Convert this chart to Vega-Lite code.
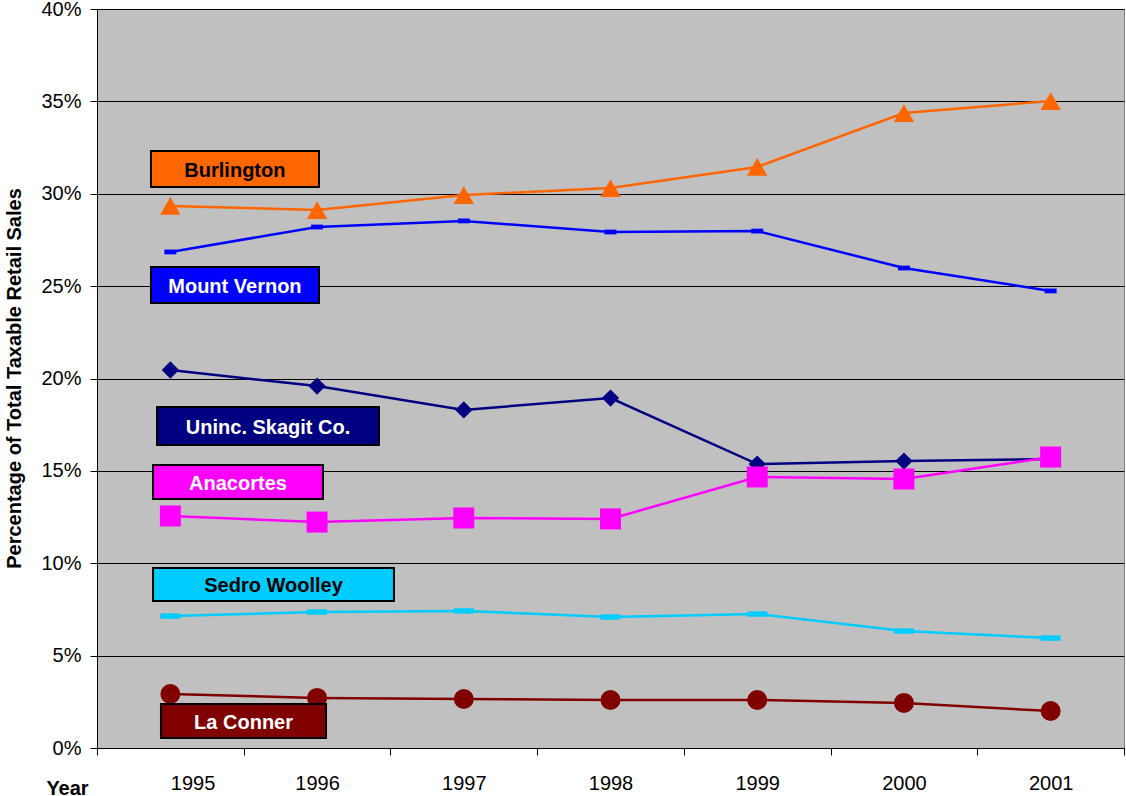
{
  "$schema": "https://vega.github.io/schema/vega-lite/v6.json",
  "width": 1027,
  "height": 739,
  "autosize": {"type": "none"},
  "padding": {"left": 97, "top": 9, "right": 2, "bottom": 48},
  "background": "white",
  "config": {
    "view": {"fill": "#C0C0C0", "stroke": "#808080", "strokeWidth": 1},
    "font": "Liberation Sans"
  },
  "datasets": {
    "sales": [
      {"year": 1995, "series": "Burlington", "share": 0.2934},
      {"year": 1996, "series": "Burlington", "share": 0.2912},
      {"year": 1997, "series": "Burlington", "share": 0.2993},
      {"year": 1998, "series": "Burlington", "share": 0.3031},
      {"year": 1999, "series": "Burlington", "share": 0.3145},
      {"year": 2000, "series": "Burlington", "share": 0.3437},
      {"year": 2001, "series": "Burlington", "share": 0.3502},
      {"year": 1995, "series": "Mount Vernon", "share": 0.2685},
      {"year": 1996, "series": "Mount Vernon", "share": 0.282},
      {"year": 1997, "series": "Mount Vernon", "share": 0.2853},
      {"year": 1998, "series": "Mount Vernon", "share": 0.2793},
      {"year": 1999, "series": "Mount Vernon", "share": 0.2798},
      {"year": 2000, "series": "Mount Vernon", "share": 0.2598},
      {"year": 2001, "series": "Mount Vernon", "share": 0.2474},
      {"year": 1995, "series": "Uninc. Skagit Co.", "share": 0.2046},
      {"year": 1996, "series": "Uninc. Skagit Co.", "share": 0.1959},
      {"year": 1997, "series": "Uninc. Skagit Co.", "share": 0.183},
      {"year": 1998, "series": "Uninc. Skagit Co.", "share": 0.1894},
      {"year": 1999, "series": "Uninc. Skagit Co.", "share": 0.1537},
      {"year": 2000, "series": "Uninc. Skagit Co.", "share": 0.1553},
      {"year": 2001, "series": "Uninc. Skagit Co.", "share": 0.1564},
      {"year": 1995, "series": "Anacortes", "share": 0.1256},
      {"year": 1996, "series": "Anacortes", "share": 0.1223},
      {"year": 1997, "series": "Anacortes", "share": 0.1245},
      {"year": 1998, "series": "Anacortes", "share": 0.124},
      {"year": 1999, "series": "Anacortes", "share": 0.1467},
      {"year": 2000, "series": "Anacortes", "share": 0.1456},
      {"year": 2001, "series": "Anacortes", "share": 0.1575},
      {"year": 1995, "series": "Sedro Woolley", "share": 0.0714},
      {"year": 1996, "series": "Sedro Woolley", "share": 0.0736},
      {"year": 1997, "series": "Sedro Woolley", "share": 0.0742},
      {"year": 1998, "series": "Sedro Woolley", "share": 0.0709},
      {"year": 1999, "series": "Sedro Woolley", "share": 0.0725},
      {"year": 2000, "series": "Sedro Woolley", "share": 0.0633},
      {"year": 2001, "series": "Sedro Woolley", "share": 0.0595},
      {"year": 1995, "series": "La Conner", "share": 0.0292},
      {"year": 1996, "series": "La Conner", "share": 0.0271},
      {"year": 1997, "series": "La Conner", "share": 0.0265},
      {"year": 1998, "series": "La Conner", "share": 0.026},
      {"year": 1999, "series": "La Conner", "share": 0.026},
      {"year": 2000, "series": "La Conner", "share": 0.0244},
      {"year": 2001, "series": "La Conner", "share": 0.02}
    ],
    "labels": [
      {"series": "Burlington", "x1": 1994.868, "x2": 1996.013, "y1": 0.3231, "y2": 0.3037, "tx": 1995.44, "ty": 0.3124},
      {"series": "Mount Vernon", "x1": 1994.868, "x2": 1996.013, "y1": 0.2604, "y2": 0.2409, "tx": 1995.44, "ty": 0.2496},
      {"series": "Uninc. Skagit Co.", "x1": 1994.909, "x2": 1996.422, "y1": 0.1846, "y2": 0.164, "tx": 1995.666, "ty": 0.1733},
      {"series": "Anacortes", "x1": 1994.882, "x2": 1996.04, "y1": 0.1532, "y2": 0.1348, "tx": 1995.461, "ty": 0.143},
      {"series": "Sedro Woolley", "x1": 1994.882, "x2": 1996.524, "y1": 0.0974, "y2": 0.0796, "tx": 1995.703, "ty": 0.0875},
      {"series": "La Conner", "x1": 1994.936, "x2": 1996.061, "y1": 0.0238, "y2": 0.0054, "tx": 1995.499, "ty": 0.0136}
    ]
  },
  "layer": [
    {
      "data": {"name": "sales"},
      "mark": {"type": "line", "strokeWidth": 2.5},
      "encoding": {
        "x": {
          "field": "year", "type": "quantitative",
          "scale": {"domain": [1994.5, 2001.5], "nice": false, "zero": false},
          "axis": {
            "values": [1994.5, 1995.5, 1996.5, 1997.5, 1998.5, 1999.5, 2000.5, 2001.5],
            "labelOffset": 73.36,
            "labelExpr": "datum.value > 2001 ? '' : format(datum.value + 0.5, 'd')",
            "labelFontSize": 20, "labelColor": "black", "labelPadding": 18,
            "tickSize": 7, "tickColor": "black", "domainColor": "black", "domainWidth": 1,
            "grid": false,
            "title": "Year", "titleFontSize": 20, "titleFontWeight": "bold", "titleColor": "black",
            "titleX": -30, "titleY": 46, "titleAlign": "center", "titleBaseline": "alphabetic"
          }
        },
        "y": {
          "field": "share", "type": "quantitative",
          "scale": {"domain": [0, 0.4], "nice": false},
          "axis": {
            "values": [0, 0.05, 0.1, 0.15, 0.2, 0.25, 0.3, 0.35, 0.4],
            "format": ".0%",
            "grid": true, "gridColor": "black", "gridWidth": 1, "gridOpacity": 1,
            "domainColor": "black", "domainWidth": 1, "tickColor": "black", "tickSize": 7,
            "labelFontSize": 20, "labelColor": "black", "labelPadding": 9,
            "title": "Percentage of Total Taxable Retail Sales",
            "titleFontSize": 20, "titleFontWeight": "bold", "titleColor": "black",
            "titleX": -83, "titleY": 369, "titleAngle": -90, "titleAlign": "center", "titleBaseline": "middle"
          }
        },
        "color": {
          "field": "series", "type": "nominal", "legend": null,
          "scale": {
            "domain": ["Burlington", "Mount Vernon", "Uninc. Skagit Co.", "Anacortes", "Sedro Woolley", "La Conner"],
            "range": ["#FF6600", "#0000FF", "#000080", "#FF00FF", "#00CCFF", "#800000"]
          }
        },
        "detail": {"field": "series"}
      }
    },
    {
      "data": {"name": "sales"},
      "mark": {"type": "point", "filled": true, "opacity": 1},
      "encoding": {
        "x": {"field": "year", "type": "quantitative"},
        "y": {"field": "share", "type": "quantitative"},
        "color": {"field": "series", "type": "nominal", "legend": null},
        "shape": {
          "field": "series", "type": "nominal", "legend": null,
          "scale": {
            "domain": ["Burlington", "Mount Vernon", "Uninc. Skagit Co.", "Anacortes", "Sedro Woolley", "La Conner"],
            "range": ["triangle-up", "M-1,-0.4H1V0.4H-1Z", "diamond", "square", "M-1,-0.27H1V0.27H-1Z", "circle"]
          }
        },
        "size": {
          "field": "series", "type": "nominal", "legend": null,
          "scale": {
            "type": "ordinal",
            "domain": ["Burlington", "Mount Vernon", "Uninc. Skagit Co.", "Anacortes", "Sedro Woolley", "La Conner"],
            "range": [420, 144, 300, 441, 400, 400]
          }
        }
      }
    },
    {
      "data": {"name": "labels"},
      "mark": {"type": "rect", "stroke": "black", "strokeWidth": 2},
      "encoding": {
        "x": {"field": "x1", "type": "quantitative"},
        "x2": {"field": "x2"},
        "y": {"field": "y1", "type": "quantitative"},
        "y2": {"field": "y2"},
        "color": {"field": "series", "type": "nominal", "legend": null}
      }
    },
    {
      "data": {"name": "labels"},
      "mark": {"type": "text", "fontSize": 20, "fontWeight": "bold", "align": "center", "baseline": "middle"},
      "encoding": {
        "x": {"field": "tx", "type": "quantitative"},
        "y": {"field": "ty", "type": "quantitative"},
        "text": {"field": "series"},
        "color": {
          "condition": {"test": "datum.series === 'Burlington' || datum.series === 'Sedro Woolley'", "value": "black"},
          "value": "white"
        }
      }
    }
  ]
}
